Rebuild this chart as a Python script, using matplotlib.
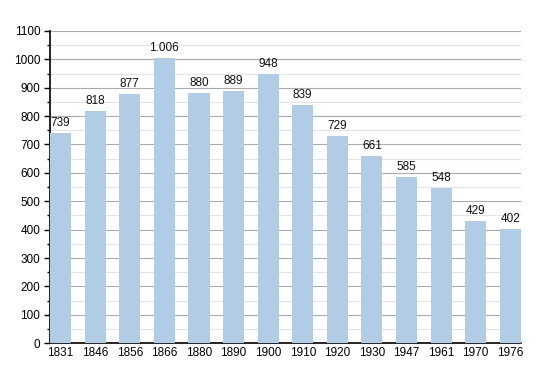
import numpy as np
import matplotlib
import matplotlib.pyplot as plt

matplotlib.use('Agg')
plt.rcParams['font.family'] = ['Liberation Sans', 'DejaVu Sans']

years = ['1831', '1846', '1856', '1866', '1880', '1890', '1900',
         '1910', '1920', '1930', '1947', '1961', '1970', '1976']
population = [739, 818, 877, 1006, 880, 889, 948, 839, 729, 661, 585, 548, 429, 402]
labels = ['739', '818', '877', '1.006', '880', '889', '948',
          '839', '729', '661', '585', '548', '429', '402']

fig = plt.figure(figsize=(5.5, 3.73), dpi=100)
ax = fig.add_axes([0.091, 0.080, 0.856, 0.837])

x = np.arange(len(years))
width = 0.61
ax.bar(x, population, width=width, color='#b3cce6', zorder=3)

for xi, v, lab in zip(x, population, labels):
    ax.text(xi, v + 14, lab, ha='center', va='bottom', fontsize=8.5, color='#111111', zorder=4)

ax.set_xlim(-width / 2, len(years) - 1 + width / 2)
ax.set_ylim(0, 1100)
ax.set_yticks(np.arange(0, 1101, 100))
ax.set_yticks(np.arange(50, 1100, 100), minor=True)
ax.set_xticks(x)
ax.set_xticklabels(years)

# grid lines: darker at hundreds, lighter at fifties
ax.grid(True, which='major', axis='y', color='#ababab', linewidth=0.8, zorder=0)
ax.grid(True, which='minor', axis='y', color='#e4e4e4', linewidth=0.8, zorder=0)

for side in ['top', 'right']:
    ax.spines[side].set_visible(False)
ax.spines['left'].set_linewidth(1.2)
ax.spines['bottom'].set_linewidth(1.2)

ax.tick_params(axis='y', which='major', length=4, width=1, labelsize=8.5, pad=3)
ax.tick_params(axis='y', which='minor', length=2, width=1)
ax.tick_params(axis='x', length=0, labelsize=8.5, pad=3)

fig.savefig('out.png', dpi=100)
